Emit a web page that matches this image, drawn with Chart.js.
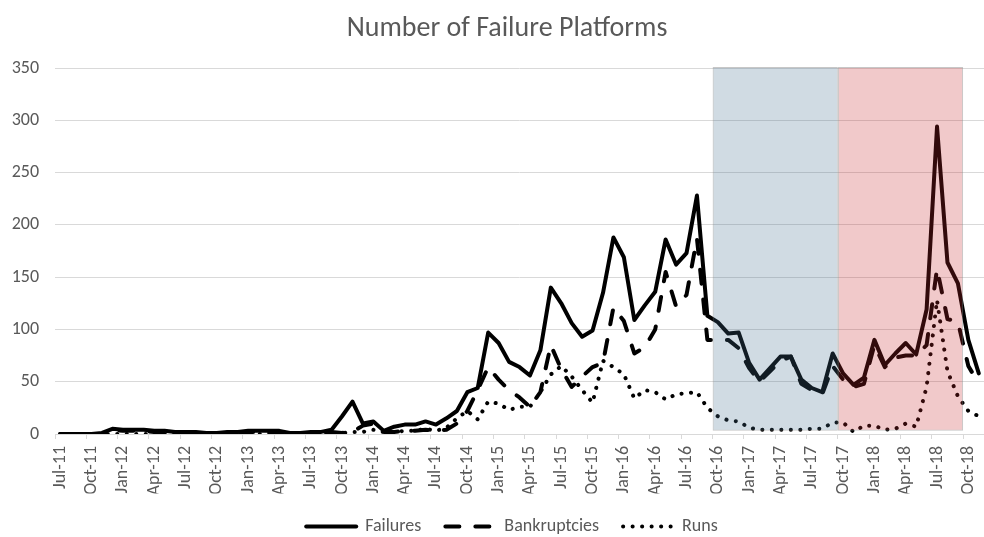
<!DOCTYPE html>
<html><head><meta charset="utf-8">
<script src="https://cdn.jsdelivr.net/npm/chart.js@4.4.1/dist/chart.umd.min.js"></script>
<style>html,body{margin:0;padding:0;overflow:hidden;background:#fff}#wrap{width:984px;height:537px;position:relative}</style>
</head><body><div id="wrap"><canvas id="c" width="984" height="537"></canvas></div>
<script>
const categories = [
 'Jul-11','Aug-11','Sep-11','Oct-11','Nov-11','Dec-11',
 'Jan-12','Feb-12','Mar-12','Apr-12','May-12','Jun-12','Jul-12','Aug-12','Sep-12','Oct-12','Nov-12','Dec-12',
 'Jan-13','Feb-13','Mar-13','Apr-13','May-13','Jun-13','Jul-13','Aug-13','Sep-13','Oct-13','Nov-13','Dec-13',
 'Jan-14','Feb-14','Mar-14','Apr-14','May-14','Jun-14','Jul-14','Aug-14','Sep-14','Oct-14','Nov-14','Dec-14',
 'Jan-15','Feb-15','Mar-15','Apr-15','May-15','Jun-15','Jul-15','Aug-15','Sep-15','Oct-15','Nov-15','Dec-15',
 'Jan-16','Feb-16','Mar-16','Apr-16','May-16','Jun-16','Jul-16','Aug-16','Sep-16','Oct-16','Nov-16','Dec-16',
 'Jan-17','Feb-17','Mar-17','Apr-17','May-17','Jun-17','Jul-17','Aug-17','Sep-17','Oct-17','Nov-17','Dec-17',
 'Jan-18','Feb-18','Mar-18','Apr-18','May-18','Jun-18','Jul-18','Aug-18','Sep-18','Oct-18','Nov-18'
];
const failures = [
 0,0,0,0,1,5,
 4,4,4,3,3,2,2,2,1,1,2,2,
 3,3,3,3,1,1,2,2,4,17,31,10,
 12,3,7,9,9,12,9,15,22,40,44,97,
 87,69,64,56,80,140,125,106,93,99,135,188,
 169,109,123,136,186,162,173,228,113,107,96,97,
 68,52,63,74,74,52,44,40,77,58,47,54,
 90,66,77,87,76,119,294,164,144,90,58
];
const bankruptcies = [
 0,0,0,0,0,4,
 3,3,3,2,2,2,1,1,1,1,1,2,
 2,2,2,2,1,1,1,1,2,1,2,8,
 10,2,2,3,3,4,3,4,10,22,42,64,
 52,42,35,26,40,85,62,45,55,64,68,121,
 108,77,83,100,155,122,133,187,90,90,90,82,
 63,50,60,70,74,48,42,38,65,52,45,48,
 85,64,73,75,75,85,158,110,107,65,48
];
const runs = [
 0,0,0,0,0,0,
 0,0,0,0,0,0,0,0,0,0,0,0,
 0,0,0,0,0,0,0,0,1,1,2,2,
 4,2,2,3,3,5,3,6,15,22,14,31,
 29,23,26,26,40,57,65,55,42,30,70,64,
 57,34,42,40,33,38,39,40,25,17,13,12,
 6,4,4,4,4,4,5,5,11,11,2,8,
 8,4,5,10,7,45,128,60,36,22,17
];
const yMin = 0, yMax = 350, yStep = 50;
const shadedPeriods = [
  {from: 'Oct-16', to: 'Sep-17', fill: 'rgba(68,110,145,0.25)'},
  {from: 'Oct-17', to: 'Sep-18', fill: 'rgba(200,40,45,0.25)'}
];
const shadeLow = 3, shadeHigh = 351;

Chart.defaults.font.family = "Carlito, Lato, 'Liberation Sans', sans-serif";
Chart.defaults.color = '#595959';

// one floating bar per shaded period, placed on a hidden linear axis that spans the same index range
const bandPoints = shadedPeriods.map(p => {
  const a = categories.indexOf(p.from), b = categories.indexOf(p.to);
  return {x: (a + b) / 2, y: [shadeLow, shadeHigh]};
});

const lineBase = {type: 'line', xAxisID: 'x', yAxisID: 'y', borderColor: '#000', backgroundColor: '#000', borderWidth: 4,
  pointRadius: 0, pointHoverRadius: 0, tension: 0, borderJoinStyle: 'round', fill: false};

const datasets = [
  Object.assign({}, lineBase, {label: 'Failures', data: failures, borderCapStyle: 'round', borderDash: [], order: 3}),
  Object.assign({}, lineBase, {label: 'Bankruptcies', data: bankruptcies, borderCapStyle: 'round', borderDash: [14, 16], order: 2}),
  Object.assign({}, lineBase, {label: 'Runs', data: runs, borderCapStyle: 'round', borderDash: [0.1, 9.4], order: 1}),
  {
    type: 'bar', label: '', xAxisID: 'xb', yAxisID: 'y',
    data: bandPoints,
    backgroundColor: shadedPeriods.map(p => p.fill),
    borderColor: 'rgba(130,130,130,0.45)', borderWidth: 1, borderSkipped: false,
    barPercentage: 1, categoryPercentage: 1, inflateAmount: 0,
    grouped: false, clip: false, order: 0
  }
];

const blockShift = {
  id: 'blockShift',
  afterLayout(chart) {
    if (chart.legend) { chart.legend.left += 19; chart.legend.right += 19; }
    if (chart.titleBlock) { chart.titleBlock.left += 14; chart.titleBlock.right += 14; }
  }
};

new Chart(document.getElementById('c'), {
  type: 'line',
  data: {labels: categories, datasets: datasets},
  plugins: [blockShift],
  options: {
    responsive: false, animation: false, devicePixelRatio: 1,
    layout: {padding: {left: 0, right: -2, top: 0, bottom: -8.5}},
    plugins: {
      title: {display: true, text: 'Number of Failure Platforms', color: '#595959',
        font: {size: 28, weight: 'normal'}, padding: {top: 11.7, bottom: 22.7}},
      tooltip: {enabled: false},
      legend: {
        position: 'bottom',
        labels: {
          usePointStyle: true, pointStyleWidth: 50, boxHeight: 18, padding: 24,
          color: '#595959', font: {size: 18},
          generateLabels: (chart) => chart.data.datasets.slice(0, 3).map((ds, i) => ({
            text: ds.label, fillStyle: '#000', strokeStyle: '#000', lineWidth: ds.borderWidth,
            lineDash: ds.borderDash, lineCap: ds.borderCapStyle, lineJoin: 'round',
            pointStyle: 'line', fontColor: '#595959', hidden: false, datasetIndex: i
          }))
        }
      }
    },
    scales: {
      x: {
        type: 'category', offset: true, position: 'bottom',
        grid: {offset: true, drawOnChartArea: false, drawTicks: true, tickLength: 5,
          color: (ctx) => ctx.index % 3 === 0 ? '#d9d9d9' : 'rgba(0,0,0,0)',
          tickColor: (ctx) => ctx.index % 3 === 0 ? '#d9d9d9' : 'rgba(0,0,0,0)'},
        border: {display: true, color: '#d9d9d9', width: 1},
        ticks: {autoSkip: false, minRotation: 90, maxRotation: 90, padding: 7,
          color: '#595959', font: {size: 18},
          callback: (v, i) => i % 3 === 0 ? categories[i] : ''},
        afterFit: (s) => { s.height = 59.5; s.paddingLeft = 0; s.paddingRight = 0; }
      },
      xb: {
        type: 'linear', axis: 'x', position: 'bottom', display: false,
        offset: false, grid: {offset: false},
        min: -0.5, max: categories.length - 0.5,
        ticks: {count: 2}
      },
      y: {
        min: yMin, max: yMax,
        grid: {color: '#d9d9d9', drawTicks: false, lineWidth: 1},
        border: {display: false},
        ticks: {stepSize: yStep, padding: 16, color: '#595959', font: {size: 18}},
        afterFit: (s) => { s.width = 55; }
      }
    }
  }
});
</script>
</body></html>
